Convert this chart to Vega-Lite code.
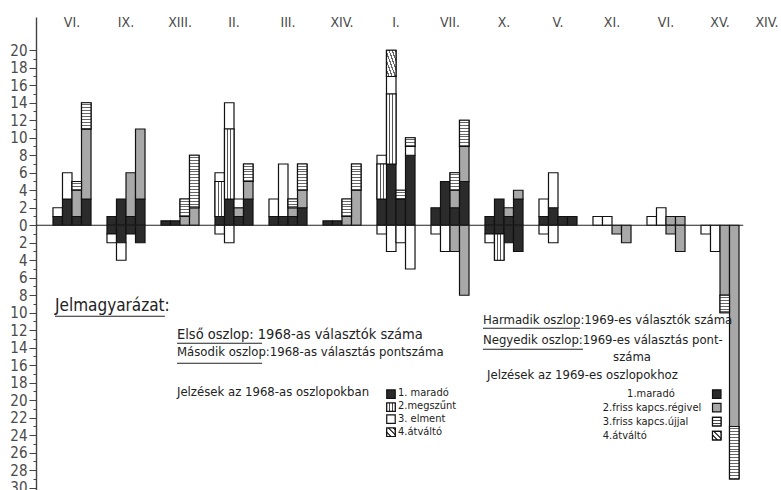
{
  "$schema": "https://vega.github.io/schema/vega-lite/v6.json",
  "width": 745,
  "height": 473,
  "autosize": {"type": "none"},
  "padding": {"left": 36, "top": 17, "right": 0, "bottom": 0},
  "background": "#ffffff",
  "config": {"view": {"stroke": null}, "font": "DejaVu Sans Condensed, Liberation Sans Narrow, DejaVu Sans, sans-serif"},
  "datasets": {
    "bars": [
      {"g": "01 VI.", "c": 1, "cat": "maradó", "y0": 0, "y1": 1},
      {"g": "01 VI.", "c": 1, "cat": "elment", "y0": 1, "y1": 2},
      {"g": "01 VI.", "c": 2, "cat": "maradó", "y0": 0, "y1": 3},
      {"g": "01 VI.", "c": 2, "cat": "elment", "y0": 3, "y1": 6},
      {"g": "01 VI.", "c": 3, "cat": "maradó", "y0": 0, "y1": 1},
      {"g": "01 VI.", "c": 3, "cat": "régivel", "y0": 1, "y1": 4},
      {"g": "01 VI.", "c": 3, "cat": "újjal", "y0": 4, "y1": 5},
      {"g": "01 VI.", "c": 4, "cat": "maradó", "y0": 0, "y1": 3},
      {"g": "01 VI.", "c": 4, "cat": "régivel", "y0": 3, "y1": 11},
      {"g": "01 VI.", "c": 4, "cat": "újjal", "y0": 11, "y1": 14},
      {"g": "02 IX.", "c": 1, "cat": "maradó", "y0": 0, "y1": 1},
      {"g": "02 IX.", "c": 1, "cat": "maradó", "y0": -1, "y1": 0},
      {"g": "02 IX.", "c": 1, "cat": "elment", "y0": -2, "y1": -1},
      {"g": "02 IX.", "c": 2, "cat": "maradó", "y0": 0, "y1": 3},
      {"g": "02 IX.", "c": 2, "cat": "maradó", "y0": -2, "y1": 0},
      {"g": "02 IX.", "c": 2, "cat": "elment", "y0": -4, "y1": -2},
      {"g": "02 IX.", "c": 3, "cat": "maradó", "y0": 0, "y1": 1},
      {"g": "02 IX.", "c": 3, "cat": "régivel", "y0": 1, "y1": 6},
      {"g": "02 IX.", "c": 3, "cat": "maradó", "y0": -1, "y1": 0},
      {"g": "02 IX.", "c": 4, "cat": "maradó", "y0": 0, "y1": 3},
      {"g": "02 IX.", "c": 4, "cat": "régivel", "y0": 3, "y1": 11},
      {"g": "02 IX.", "c": 4, "cat": "maradó", "y0": -2, "y1": 0},
      {"g": "03 XIII.", "c": 1, "cat": "maradó", "y0": 0, "y1": 0.5},
      {"g": "03 XIII.", "c": 2, "cat": "maradó", "y0": 0, "y1": 0.5},
      {"g": "03 XIII.", "c": 3, "cat": "régivel", "y0": 0, "y1": 1},
      {"g": "03 XIII.", "c": 3, "cat": "újjal", "y0": 1, "y1": 3},
      {"g": "03 XIII.", "c": 4, "cat": "régivel", "y0": 0, "y1": 2},
      {"g": "03 XIII.", "c": 4, "cat": "újjal", "y0": 2, "y1": 8},
      {"g": "04 II.", "c": 1, "cat": "maradó", "y0": 0, "y1": 1},
      {"g": "04 II.", "c": 1, "cat": "megszűnt", "y0": 1, "y1": 5},
      {"g": "04 II.", "c": 1, "cat": "elment", "y0": 5, "y1": 6},
      {"g": "04 II.", "c": 1, "cat": "elment", "y0": -1, "y1": 0},
      {"g": "04 II.", "c": 2, "cat": "maradó", "y0": 0, "y1": 3},
      {"g": "04 II.", "c": 2, "cat": "megszűnt", "y0": 3, "y1": 11},
      {"g": "04 II.", "c": 2, "cat": "elment", "y0": 11, "y1": 14},
      {"g": "04 II.", "c": 2, "cat": "elment", "y0": -2, "y1": 0},
      {"g": "04 II.", "c": 3, "cat": "maradó", "y0": 0, "y1": 1},
      {"g": "04 II.", "c": 3, "cat": "régivel", "y0": 1, "y1": 2},
      {"g": "04 II.", "c": 3, "cat": "elment", "y0": 2, "y1": 3},
      {"g": "04 II.", "c": 4, "cat": "maradó", "y0": 0, "y1": 3},
      {"g": "04 II.", "c": 4, "cat": "régivel", "y0": 3, "y1": 5},
      {"g": "04 II.", "c": 4, "cat": "újjal", "y0": 5, "y1": 7},
      {"g": "05 III.", "c": 1, "cat": "maradó", "y0": 0, "y1": 1},
      {"g": "05 III.", "c": 1, "cat": "elment", "y0": 1, "y1": 3},
      {"g": "05 III.", "c": 2, "cat": "maradó", "y0": 0, "y1": 1},
      {"g": "05 III.", "c": 2, "cat": "elment", "y0": 1, "y1": 7},
      {"g": "05 III.", "c": 3, "cat": "maradó", "y0": 0, "y1": 1},
      {"g": "05 III.", "c": 3, "cat": "régivel", "y0": 1, "y1": 2},
      {"g": "05 III.", "c": 3, "cat": "újjal", "y0": 2, "y1": 3},
      {"g": "05 III.", "c": 4, "cat": "maradó", "y0": 0, "y1": 2},
      {"g": "05 III.", "c": 4, "cat": "régivel", "y0": 2, "y1": 4},
      {"g": "05 III.", "c": 4, "cat": "újjal", "y0": 4, "y1": 7},
      {"g": "06 XIV.", "c": 1, "cat": "maradó", "y0": 0, "y1": 0.5},
      {"g": "06 XIV.", "c": 2, "cat": "maradó", "y0": 0, "y1": 0.5},
      {"g": "06 XIV.", "c": 3, "cat": "régivel", "y0": 0, "y1": 1},
      {"g": "06 XIV.", "c": 3, "cat": "újjal", "y0": 1, "y1": 3},
      {"g": "06 XIV.", "c": 4, "cat": "régivel", "y0": 0, "y1": 4},
      {"g": "06 XIV.", "c": 4, "cat": "újjal", "y0": 4, "y1": 7},
      {"g": "07 I.", "c": 1, "cat": "maradó", "y0": 0, "y1": 3},
      {"g": "07 I.", "c": 1, "cat": "megszűnt", "y0": 3, "y1": 7},
      {"g": "07 I.", "c": 1, "cat": "elment", "y0": 7, "y1": 8},
      {"g": "07 I.", "c": 1, "cat": "elment", "y0": -1, "y1": 0},
      {"g": "07 I.", "c": 2, "cat": "maradó", "y0": 0, "y1": 7},
      {"g": "07 I.", "c": 2, "cat": "megszűnt", "y0": 7, "y1": 15},
      {"g": "07 I.", "c": 2, "cat": "elment", "y0": 15, "y1": 17},
      {"g": "07 I.", "c": 2, "cat": "átváltó", "y0": 17, "y1": 20},
      {"g": "07 I.", "c": 2, "cat": "elment", "y0": -3, "y1": 0},
      {"g": "07 I.", "c": 3, "cat": "maradó", "y0": 0, "y1": 3},
      {"g": "07 I.", "c": 3, "cat": "újjal", "y0": 3, "y1": 4},
      {"g": "07 I.", "c": 3, "cat": "elment", "y0": -2, "y1": 0},
      {"g": "07 I.", "c": 4, "cat": "maradó", "y0": 0, "y1": 8},
      {"g": "07 I.", "c": 4, "cat": "elment", "y0": 8, "y1": 9},
      {"g": "07 I.", "c": 4, "cat": "újjal", "y0": 9, "y1": 10},
      {"g": "07 I.", "c": 4, "cat": "elment", "y0": -5, "y1": 0},
      {"g": "08 VII.", "c": 1, "cat": "maradó", "y0": 0, "y1": 2},
      {"g": "08 VII.", "c": 1, "cat": "elment", "y0": -1, "y1": 0},
      {"g": "08 VII.", "c": 2, "cat": "maradó", "y0": 0, "y1": 5},
      {"g": "08 VII.", "c": 2, "cat": "elment", "y0": -3, "y1": 0},
      {"g": "08 VII.", "c": 3, "cat": "maradó", "y0": 0, "y1": 2},
      {"g": "08 VII.", "c": 3, "cat": "régivel", "y0": 2, "y1": 4},
      {"g": "08 VII.", "c": 3, "cat": "újjal", "y0": 4, "y1": 6},
      {"g": "08 VII.", "c": 3, "cat": "régivel", "y0": -3, "y1": 0},
      {"g": "08 VII.", "c": 4, "cat": "maradó", "y0": 0, "y1": 5},
      {"g": "08 VII.", "c": 4, "cat": "régivel", "y0": 5, "y1": 9},
      {"g": "08 VII.", "c": 4, "cat": "újjal", "y0": 9, "y1": 12},
      {"g": "08 VII.", "c": 4, "cat": "régivel", "y0": -8, "y1": 0},
      {"g": "09 X.", "c": 1, "cat": "maradó", "y0": 0, "y1": 1},
      {"g": "09 X.", "c": 1, "cat": "maradó", "y0": -1, "y1": 0},
      {"g": "09 X.", "c": 1, "cat": "elment", "y0": -2, "y1": -1},
      {"g": "09 X.", "c": 2, "cat": "maradó", "y0": 0, "y1": 3},
      {"g": "09 X.", "c": 2, "cat": "maradó", "y0": -1, "y1": 0},
      {"g": "09 X.", "c": 2, "cat": "megszűnt", "y0": -4, "y1": -1},
      {"g": "09 X.", "c": 3, "cat": "maradó", "y0": 0, "y1": 1},
      {"g": "09 X.", "c": 3, "cat": "régivel", "y0": 1, "y1": 2},
      {"g": "09 X.", "c": 3, "cat": "maradó", "y0": -2, "y1": 0},
      {"g": "09 X.", "c": 4, "cat": "maradó", "y0": 0, "y1": 3},
      {"g": "09 X.", "c": 4, "cat": "régivel", "y0": 3, "y1": 4},
      {"g": "09 X.", "c": 4, "cat": "maradó", "y0": -3, "y1": 0},
      {"g": "10 V.", "c": 1, "cat": "maradó", "y0": 0, "y1": 1},
      {"g": "10 V.", "c": 1, "cat": "elment", "y0": 1, "y1": 3},
      {"g": "10 V.", "c": 1, "cat": "elment", "y0": -1, "y1": 0},
      {"g": "10 V.", "c": 2, "cat": "maradó", "y0": 0, "y1": 2},
      {"g": "10 V.", "c": 2, "cat": "elment", "y0": 2, "y1": 6},
      {"g": "10 V.", "c": 2, "cat": "elment", "y0": -2, "y1": 0},
      {"g": "10 V.", "c": 3, "cat": "maradó", "y0": 0, "y1": 1},
      {"g": "10 V.", "c": 4, "cat": "maradó", "y0": 0, "y1": 1},
      {"g": "11 XI.", "c": 1, "cat": "elment", "y0": 0, "y1": 1},
      {"g": "11 XI.", "c": 2, "cat": "elment", "y0": 0, "y1": 1},
      {"g": "11 XI.", "c": 3, "cat": "régivel", "y0": -1, "y1": 0},
      {"g": "11 XI.", "c": 4, "cat": "régivel", "y0": -2, "y1": 0},
      {"g": "12 VI.", "c": 1, "cat": "elment", "y0": 0, "y1": 1},
      {"g": "12 VI.", "c": 2, "cat": "elment", "y0": 0, "y1": 2},
      {"g": "12 VI.", "c": 3, "cat": "régivel", "y0": 0, "y1": 1},
      {"g": "12 VI.", "c": 3, "cat": "régivel", "y0": -1, "y1": 0},
      {"g": "12 VI.", "c": 4, "cat": "régivel", "y0": 0, "y1": 1},
      {"g": "12 VI.", "c": 4, "cat": "régivel", "y0": -3, "y1": 0},
      {"g": "13 XV.", "c": 1, "cat": "elment", "y0": -1, "y1": 0},
      {"g": "13 XV.", "c": 2, "cat": "elment", "y0": -3, "y1": 0},
      {"g": "13 XV.", "c": 3, "cat": "régivel", "y0": -8, "y1": 0},
      {"g": "13 XV.", "c": 3, "cat": "újjal", "y0": -10, "y1": -8},
      {"g": "13 XV.", "c": 4, "cat": "régivel", "y0": -23, "y1": 0},
      {"g": "13 XV.", "c": 4, "cat": "újjal", "y0": -29, "y1": -23}
    ],
    "notes": [
      {"t": "Jelmagyarázat:", "kind": "title", "u": 0.185, "y1": -9.26},
      {"t": "Első oszlop: 1968-as választók száma", "kind": "wide", "u": 2.444, "y1": -12.57},
      {"t": "Második oszlop:1968-as választás pontszáma", "kind": "head", "u": 2.444, "y1": -14.51},
      {"t": "Jelzések az 1968-as oszlopokban", "kind": "head", "u": 2.444, "y1": -19.09},
      {"t": "1. maradó", "kind": "item", "u": 6.537, "y1": -19.2},
      {"t": "2.megszűnt", "kind": "item", "u": 6.537, "y1": -20.7},
      {"t": "3. elment", "kind": "item", "u": 6.537, "y1": -22.17},
      {"t": "4.átváltó", "kind": "item", "u": 6.537, "y1": -23.66},
      {"t": "Harmadik oszlop:1969-es választók száma", "kind": "head", "u": 8.11, "y1": -10.86},
      {"t": "Negyedik oszlop:1969-es választás pont-", "kind": "head", "u": 8.11, "y1": -13.14},
      {"t": "száma", "kind": "head", "u": 10.52, "y1": -15.09},
      {"t": "Jelzések az 1969-es oszlopokhoz", "kind": "head", "u": 8.185, "y1": -17.14},
      {"t": "1.maradó", "kind": "item", "u": 10.78, "y1": -19.3},
      {"t": "2.friss kapcs.régivel", "kind": "item", "u": 10.33, "y1": -20.85},
      {"t": "3.friss kapcs.újjal", "kind": "item", "u": 10.33, "y1": -22.45},
      {"t": "4.átváltó", "kind": "item", "u": 10.33, "y1": -24.05}
    ],
    "lines": [
      {"u": -0.1667, "u2": 12.93, "y1": 0},
      {"u": 0.185, "u2": 2.22, "y1": -10.4},
      {"u": 2.444, "u2": 4.02, "y1": -13.49},
      {"u": 2.444, "u2": 4.02, "y1": -15.77},
      {"u": 8.11, "u2": 9.907, "y1": -11.77},
      {"u": 8.11, "u2": 9.963, "y1": -14.17}
    ],
    "swatches": [
      {"cat": "maradó", "u": 6.407, "y1": -19.31},
      {"cat": "megszűnt", "u": 6.407, "y1": -20.8},
      {"cat": "elment", "u": 6.407, "y1": -22.17},
      {"cat": "átváltó", "u": 6.407, "y1": -23.66},
      {"cat": "maradó", "u": 12.44, "y1": -19.3},
      {"cat": "régivel", "u": 12.44, "y1": -20.85},
      {"cat": "újjal", "u": 12.44, "y1": -22.45},
      {"cat": "átváltó", "u": 12.44, "y1": -24.05}
    ]
  },
  "encoding": {
    "y": {
      "field": "y1",
      "type": "quantitative",
      "scale": {"domain": [-30.26, 23.8], "nice": false, "zero": false},
      "axis": {
        "title": null,
        "grid": false,
        "values": [-30,-29,-28,-27,-26,-25,-24,-23,-22,-21,-20,-19,-18,-17,-16,-15,-14,-13,-12,-11,-10,-9,-8,-7,-6,-5,-4,-3,-2,-1,0,1,2,3,4,5,6,7,8,9,10,11,12,13,14,15,16,17,18,19,20],
        "labelExpr": "abs(datum.value) % 2 == 0 ? '' + abs(datum.value) : ''",
        "labelOverlap": false,
        "labelBound": false,
        "labelFontSize": 15,
        "labelColor": "#4a4a4a",
        "labelPadding": 2,
        "domainColor": "#444444",
        "domainWidth": 1.4,
        "tickColor": "#444444",
        "tickWidth": 1,
        "tickSize": {"condition": {"test": "abs(datum.value) % 2 == 1", "value": 3}, "value": 7}
      }
    }
  },
  "layer": [
    {
      "data": {"name": "bars"},
      "encoding": {
        "x": {
          "field": "g",
          "type": "nominal",
          "scale": {
            "domain": ["01 VI.", "02 IX.", "03 XIII.", "04 II.", "05 III.", "06 XIV.", "07 I.", "08 VII.", "09 X.", "10 V.", "11 XI.", "12 VI.", "13 XV.", "14 XIV."],
            "range": [9, 765],
            "paddingInner": 0,
            "paddingOuter": 0
          },
          "axis": {
            "orient": "top",
            "title": null,
            "domain": false,
            "ticks": false,
            "labelAngle": 0,
            "labelPadding": -12,
            "labelExpr": "slice(datum.label, 3)",
            "labelFontSize": 14,
            "labelColor": "#4a4a4a",
            "labelBound": false,
            "labelOffset": {"condition": {"test": "datum.value == '14 XIV.'", "value": -7}, "value": 0}
          }
        },
        "xOffset": {"field": "c", "type": "nominal", "scale": {"domain": [1, 2, 3, 4], "paddingInner": 0, "paddingOuter": 0.84}},
        "y2": {"field": "y0"}
      },
      "layer": [
        {
          "mark": {"type": "bar", "stroke": "#111111", "strokeWidth": 1.2},
          "encoding": {
            "fill": {
              "field": "cat",
              "type": "nominal",
              "scale": {
                "domain": ["maradó", "megszűnt", "elment", "átváltó", "régivel", "újjal"],
                "range": ["#2b2b2b", "#e2e2e2", "#ffffff", "#bdbdbd", "#a8a8a8", "#d6d6d6"]
              },
              "legend": null
            }
          }
        },
        {
          "transform": [{"filter": "datum.cat == 'megszűnt'"}],
          "mark": {
            "type": "bar",
            "stroke": "#111111",
            "strokeWidth": 1.2,
            "fill": {"gradient": "linear", "x1": 0, "y1": 0, "x2": 1, "y2": 0, "stops": [
              {"offset": 0, "color": "#ffffff"}, {"offset": 0.28, "color": "#ffffff"},
              {"offset": 0.28, "color": "#555555"}, {"offset": 0.38, "color": "#555555"},
              {"offset": 0.38, "color": "#ffffff"}, {"offset": 0.62, "color": "#ffffff"},
              {"offset": 0.62, "color": "#555555"}, {"offset": 0.72, "color": "#555555"},
              {"offset": 0.72, "color": "#ffffff"}, {"offset": 1, "color": "#ffffff"}
            ]}
          }
        },
        {
          "transform": [{"filter": "datum.cat == 'átváltó'"}],
          "mark": {
            "type": "bar",
            "stroke": "#111111",
            "strokeWidth": 1.2,
            "fill": {"gradient": "linear", "x1": 0, "y1": 1, "x2": 1, "y2": 0, "stops": [
              {"offset": 0, "color": "#ffffff"}, {"offset": 0.1, "color": "#ffffff"},
              {"offset": 0.1, "color": "#666666"}, {"offset": 0.167, "color": "#666666"},
              {"offset": 0.167, "color": "#ffffff"}, {"offset": 0.267, "color": "#ffffff"},
              {"offset": 0.267, "color": "#666666"}, {"offset": 0.333, "color": "#666666"},
              {"offset": 0.333, "color": "#ffffff"}, {"offset": 0.433, "color": "#ffffff"},
              {"offset": 0.433, "color": "#666666"}, {"offset": 0.5, "color": "#666666"},
              {"offset": 0.5, "color": "#ffffff"}, {"offset": 0.6, "color": "#ffffff"},
              {"offset": 0.6, "color": "#666666"}, {"offset": 0.667, "color": "#666666"},
              {"offset": 0.667, "color": "#ffffff"}, {"offset": 0.767, "color": "#ffffff"},
              {"offset": 0.767, "color": "#666666"}, {"offset": 0.833, "color": "#666666"},
              {"offset": 0.833, "color": "#ffffff"}, {"offset": 0.933, "color": "#ffffff"},
              {"offset": 0.933, "color": "#666666"}, {"offset": 1, "color": "#666666"}
            ]}
          }
        },
        {
          "transform": [{"filter": "datum.cat == 'újjal' && datum.y1 - datum.y0 == 1"}],
          "mark": {
            "type": "bar",
            "stroke": "#111111",
            "strokeWidth": 1.2,
            "fill": {"gradient": "linear", "x1": 0, "y1": 0, "x2": 0, "y2": 1, "stops": [
              {"offset": 0, "color": "#ffffff"},
              {"offset": 0.1833, "color": "#ffffff"}, {"offset": 0.1833, "color": "#666666"}, {"offset": 0.3, "color": "#666666"}, {"offset": 0.3, "color": "#ffffff"},
              {"offset": 0.5167, "color": "#ffffff"}, {"offset": 0.5167, "color": "#666666"}, {"offset": 0.6333, "color": "#666666"}, {"offset": 0.6333, "color": "#ffffff"},
              {"offset": 0.85, "color": "#ffffff"}, {"offset": 0.85, "color": "#666666"}, {"offset": 0.9667, "color": "#666666"}, {"offset": 0.9667, "color": "#ffffff"},
              {"offset": 1, "color": "#ffffff"}
            ]}
          }
        },
        {
          "transform": [{"filter": "datum.cat == 'újjal' && datum.y1 - datum.y0 == 2"}],
          "mark": {
            "type": "bar",
            "stroke": "#111111",
            "strokeWidth": 1.2,
            "fill": {"gradient": "linear", "x1": 0, "y1": 0, "x2": 0, "y2": 1, "stops": [
              {"offset": 0, "color": "#ffffff"},
              {"offset": 0.0917, "color": "#ffffff"}, {"offset": 0.0917, "color": "#666666"}, {"offset": 0.15, "color": "#666666"}, {"offset": 0.15, "color": "#ffffff"},
              {"offset": 0.2583, "color": "#ffffff"}, {"offset": 0.2583, "color": "#666666"}, {"offset": 0.3167, "color": "#666666"}, {"offset": 0.3167, "color": "#ffffff"},
              {"offset": 0.425, "color": "#ffffff"}, {"offset": 0.425, "color": "#666666"}, {"offset": 0.4833, "color": "#666666"}, {"offset": 0.4833, "color": "#ffffff"},
              {"offset": 0.5917, "color": "#ffffff"}, {"offset": 0.5917, "color": "#666666"}, {"offset": 0.65, "color": "#666666"}, {"offset": 0.65, "color": "#ffffff"},
              {"offset": 0.7583, "color": "#ffffff"}, {"offset": 0.7583, "color": "#666666"}, {"offset": 0.8167, "color": "#666666"}, {"offset": 0.8167, "color": "#ffffff"},
              {"offset": 0.925, "color": "#ffffff"}, {"offset": 0.925, "color": "#666666"}, {"offset": 0.9833, "color": "#666666"}, {"offset": 0.9833, "color": "#ffffff"},
              {"offset": 1, "color": "#ffffff"}
            ]}
          }
        },
        {
          "transform": [{"filter": "datum.cat == 'újjal' && datum.y1 - datum.y0 == 3"}],
          "mark": {
            "type": "bar",
            "stroke": "#111111",
            "strokeWidth": 1.2,
            "fill": {"gradient": "linear", "x1": 0, "y1": 0, "x2": 0, "y2": 1, "stops": [
              {"offset": 0, "color": "#ffffff"},
              {"offset": 0.0611, "color": "#ffffff"}, {"offset": 0.0611, "color": "#666666"}, {"offset": 0.1, "color": "#666666"}, {"offset": 0.1, "color": "#ffffff"},
              {"offset": 0.1722, "color": "#ffffff"}, {"offset": 0.1722, "color": "#666666"}, {"offset": 0.2111, "color": "#666666"}, {"offset": 0.2111, "color": "#ffffff"},
              {"offset": 0.2833, "color": "#ffffff"}, {"offset": 0.2833, "color": "#666666"}, {"offset": 0.3222, "color": "#666666"}, {"offset": 0.3222, "color": "#ffffff"},
              {"offset": 0.3944, "color": "#ffffff"}, {"offset": 0.3944, "color": "#666666"}, {"offset": 0.4333, "color": "#666666"}, {"offset": 0.4333, "color": "#ffffff"},
              {"offset": 0.5056, "color": "#ffffff"}, {"offset": 0.5056, "color": "#666666"}, {"offset": 0.5444, "color": "#666666"}, {"offset": 0.5444, "color": "#ffffff"},
              {"offset": 0.6167, "color": "#ffffff"}, {"offset": 0.6167, "color": "#666666"}, {"offset": 0.6556, "color": "#666666"}, {"offset": 0.6556, "color": "#ffffff"},
              {"offset": 0.7278, "color": "#ffffff"}, {"offset": 0.7278, "color": "#666666"}, {"offset": 0.7667, "color": "#666666"}, {"offset": 0.7667, "color": "#ffffff"},
              {"offset": 0.8389, "color": "#ffffff"}, {"offset": 0.8389, "color": "#666666"}, {"offset": 0.8778, "color": "#666666"}, {"offset": 0.8778, "color": "#ffffff"},
              {"offset": 0.95, "color": "#ffffff"}, {"offset": 0.95, "color": "#666666"}, {"offset": 0.9889, "color": "#666666"}, {"offset": 0.9889, "color": "#ffffff"},
              {"offset": 1, "color": "#ffffff"}
            ]}
          }
        },
        {
          "transform": [{"filter": "datum.cat == 'újjal' && datum.y1 - datum.y0 == 6"}],
          "mark": {
            "type": "bar",
            "stroke": "#111111",
            "strokeWidth": 1.2,
            "fill": {"gradient": "linear", "x1": 0, "y1": 0, "x2": 0, "y2": 1, "stops": [
              {"offset": 0, "color": "#ffffff"},
              {"offset": 0.0306, "color": "#ffffff"}, {"offset": 0.0306, "color": "#666666"}, {"offset": 0.05, "color": "#666666"}, {"offset": 0.05, "color": "#ffffff"},
              {"offset": 0.0862, "color": "#ffffff"}, {"offset": 0.0862, "color": "#666666"}, {"offset": 0.1056, "color": "#666666"}, {"offset": 0.1056, "color": "#ffffff"},
              {"offset": 0.1417, "color": "#ffffff"}, {"offset": 0.1417, "color": "#666666"}, {"offset": 0.1611, "color": "#666666"}, {"offset": 0.1611, "color": "#ffffff"},
              {"offset": 0.1973, "color": "#ffffff"}, {"offset": 0.1973, "color": "#666666"}, {"offset": 0.2167, "color": "#666666"}, {"offset": 0.2167, "color": "#ffffff"},
              {"offset": 0.2528, "color": "#ffffff"}, {"offset": 0.2528, "color": "#666666"}, {"offset": 0.2722, "color": "#666666"}, {"offset": 0.2722, "color": "#ffffff"},
              {"offset": 0.3084, "color": "#ffffff"}, {"offset": 0.3084, "color": "#666666"}, {"offset": 0.3278, "color": "#666666"}, {"offset": 0.3278, "color": "#ffffff"},
              {"offset": 0.3639, "color": "#ffffff"}, {"offset": 0.3639, "color": "#666666"}, {"offset": 0.3833, "color": "#666666"}, {"offset": 0.3833, "color": "#ffffff"},
              {"offset": 0.4195, "color": "#ffffff"}, {"offset": 0.4195, "color": "#666666"}, {"offset": 0.4389, "color": "#666666"}, {"offset": 0.4389, "color": "#ffffff"},
              {"offset": 0.475, "color": "#ffffff"}, {"offset": 0.475, "color": "#666666"}, {"offset": 0.4944, "color": "#666666"}, {"offset": 0.4944, "color": "#ffffff"},
              {"offset": 0.5306, "color": "#ffffff"}, {"offset": 0.5306, "color": "#666666"}, {"offset": 0.55, "color": "#666666"}, {"offset": 0.55, "color": "#ffffff"},
              {"offset": 0.5862, "color": "#ffffff"}, {"offset": 0.5862, "color": "#666666"}, {"offset": 0.6056, "color": "#666666"}, {"offset": 0.6056, "color": "#ffffff"},
              {"offset": 0.6417, "color": "#ffffff"}, {"offset": 0.6417, "color": "#666666"}, {"offset": 0.6611, "color": "#666666"}, {"offset": 0.6611, "color": "#ffffff"},
              {"offset": 0.6973, "color": "#ffffff"}, {"offset": 0.6973, "color": "#666666"}, {"offset": 0.7167, "color": "#666666"}, {"offset": 0.7167, "color": "#ffffff"},
              {"offset": 0.7528, "color": "#ffffff"}, {"offset": 0.7528, "color": "#666666"}, {"offset": 0.7722, "color": "#666666"}, {"offset": 0.7722, "color": "#ffffff"},
              {"offset": 0.8084, "color": "#ffffff"}, {"offset": 0.8084, "color": "#666666"}, {"offset": 0.8278, "color": "#666666"}, {"offset": 0.8278, "color": "#ffffff"},
              {"offset": 0.8639, "color": "#ffffff"}, {"offset": 0.8639, "color": "#666666"}, {"offset": 0.8833, "color": "#666666"}, {"offset": 0.8833, "color": "#ffffff"},
              {"offset": 0.9195, "color": "#ffffff"}, {"offset": 0.9195, "color": "#666666"}, {"offset": 0.9389, "color": "#666666"}, {"offset": 0.9389, "color": "#ffffff"},
              {"offset": 0.975, "color": "#ffffff"}, {"offset": 0.975, "color": "#666666"}, {"offset": 0.9944, "color": "#666666"}, {"offset": 0.9944, "color": "#ffffff"},
              {"offset": 1, "color": "#ffffff"}
            ]}
          }
        }
      ]
    },
    {
      "layer": [
        {
          "data": {"name": "lines"},
          "mark": {"type": "rule", "stroke": "#222222", "strokeWidth": 1.1},
          "encoding": {
            "x": {"field": "u", "type": "quantitative", "scale": {"domain": [0, 14], "range": [9, 765], "nice": false, "zero": false}, "axis": null},
            "x2": {"field": "u2"}
          }
        },
        {
          "data": {"name": "notes"},
          "transform": [{"filter": "datum.kind == 'title'"}],
          "mark": {"type": "text", "align": "left", "baseline": "middle", "fontSize": 17, "fill": "#222222"},
          "encoding": {
            "x": {"field": "u", "type": "quantitative", "scale": {"domain": [0, 14], "range": [9, 765], "nice": false, "zero": false}, "axis": null},
            "text": {"field": "t"}
          }
        },
        {
          "data": {"name": "notes"},
          "transform": [{"filter": "datum.kind == 'wide'"}],
          "mark": {"type": "text", "align": "left", "baseline": "middle", "fontSize": 14.5, "fill": "#222222"},
          "encoding": {
            "x": {"field": "u", "type": "quantitative", "scale": {"domain": [0, 14], "range": [9, 765], "nice": false, "zero": false}, "axis": null},
            "text": {"field": "t"}
          }
        },
        {
          "data": {"name": "notes"},
          "transform": [{"filter": "datum.kind == 'head'"}],
          "mark": {"type": "text", "align": "left", "baseline": "middle", "fontSize": 13, "fill": "#222222"},
          "encoding": {
            "x": {"field": "u", "type": "quantitative", "scale": {"domain": [0, 14], "range": [9, 765], "nice": false, "zero": false}, "axis": null},
            "text": {"field": "t"}
          }
        },
        {
          "data": {"name": "notes"},
          "transform": [{"filter": "datum.kind == 'item'"}],
          "mark": {"type": "text", "align": "left", "baseline": "middle", "fontSize": 11, "fill": "#222222"},
          "encoding": {
            "x": {"field": "u", "type": "quantitative", "scale": {"domain": [0, 14], "range": [9, 765], "nice": false, "zero": false}, "axis": null},
            "text": {"field": "t"}
          }
        },
        {
          "data": {"name": "swatches"},
          "mark": {"type": "square", "size": 72, "stroke": "#111111", "strokeWidth": 1.2, "opacity": 1, "filled": true},
          "encoding": {
            "x": {"field": "u", "type": "quantitative", "scale": {"domain": [0, 14], "range": [9, 765], "nice": false, "zero": false}, "axis": null},
            "fill": {
              "field": "cat",
              "type": "nominal",
              "scale": {
                "domain": ["maradó", "megszűnt", "elment", "átváltó", "régivel", "újjal"],
                "range": ["#2b2b2b", "#e2e2e2", "#ffffff", "#bdbdbd", "#a8a8a8", "#d6d6d6"]
              },
              "legend": null
            }
          }
        },
        {
          "data": {"name": "swatches"},
          "transform": [{"filter": "datum.cat == 'megszűnt'"}],
          "mark": {
            "type": "square", "size": 72, "stroke": "#111111", "strokeWidth": 1.2, "opacity": 1, "filled": true,
            "fill": {"gradient": "linear", "x1": 0, "y1": 0, "x2": 1, "y2": 0, "stops": [
              {"offset": 0, "color": "#ffffff"}, {"offset": 0.28, "color": "#ffffff"},
              {"offset": 0.28, "color": "#444444"}, {"offset": 0.4, "color": "#444444"},
              {"offset": 0.4, "color": "#ffffff"}, {"offset": 0.6, "color": "#ffffff"},
              {"offset": 0.6, "color": "#444444"}, {"offset": 0.72, "color": "#444444"},
              {"offset": 0.72, "color": "#ffffff"}, {"offset": 1, "color": "#ffffff"}
            ]}
          },
          "encoding": {
            "x": {"field": "u", "type": "quantitative", "scale": {"domain": [0, 14], "range": [9, 765], "nice": false, "zero": false}, "axis": null}
          }
        },
        {
          "data": {"name": "swatches"},
          "transform": [{"filter": "datum.cat == 'újjal'"}],
          "mark": {
            "type": "square", "size": 72, "stroke": "#111111", "strokeWidth": 1.2, "opacity": 1, "filled": true,
            "fill": {"gradient": "linear", "x1": 0, "y1": 0, "x2": 0, "y2": 1, "stops": [
              {"offset": 0, "color": "#ffffff"}, {"offset": 0.28, "color": "#ffffff"},
              {"offset": 0.28, "color": "#444444"}, {"offset": 0.4, "color": "#444444"},
              {"offset": 0.4, "color": "#ffffff"}, {"offset": 0.6, "color": "#ffffff"},
              {"offset": 0.6, "color": "#444444"}, {"offset": 0.72, "color": "#444444"},
              {"offset": 0.72, "color": "#ffffff"}, {"offset": 1, "color": "#ffffff"}
            ]}
          },
          "encoding": {
            "x": {"field": "u", "type": "quantitative", "scale": {"domain": [0, 14], "range": [9, 765], "nice": false, "zero": false}, "axis": null}
          }
        },
        {
          "data": {"name": "swatches"},
          "transform": [{"filter": "datum.cat == 'átváltó'"}],
          "mark": {
            "type": "square", "size": 72, "stroke": "#111111", "strokeWidth": 1.2, "opacity": 1, "filled": true,
            "fill": {"gradient": "linear", "x1": 0, "y1": 1, "x2": 1, "y2": 0, "stops": [
              {"offset": 0, "color": "#ffffff"}, {"offset": 0.2, "color": "#ffffff"},
              {"offset": 0.2, "color": "#444444"}, {"offset": 0.33, "color": "#444444"},
              {"offset": 0.33, "color": "#ffffff"}, {"offset": 0.53, "color": "#ffffff"},
              {"offset": 0.53, "color": "#444444"}, {"offset": 0.66, "color": "#444444"},
              {"offset": 0.66, "color": "#ffffff"}, {"offset": 0.86, "color": "#ffffff"},
              {"offset": 0.86, "color": "#444444"}, {"offset": 1, "color": "#444444"}
            ]}
          },
          "encoding": {
            "x": {"field": "u", "type": "quantitative", "scale": {"domain": [0, 14], "range": [9, 765], "nice": false, "zero": false}, "axis": null}
          }
        }
      ]
    }
  ],
  "resolve": {"scale": {"x": "independent"}}
}
